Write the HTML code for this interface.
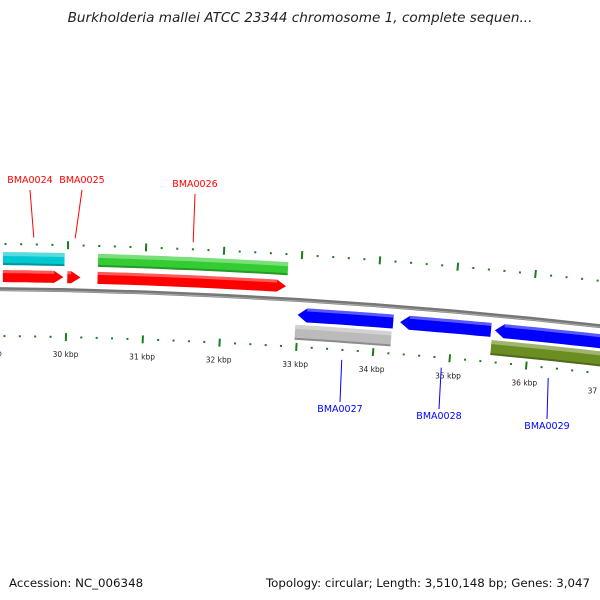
<!DOCTYPE html>
<html><head><meta charset="utf-8"><style>
body{margin:0;background:#fff}
svg{display:block;font-family:"DejaVu Sans","Liberation Sans",sans-serif}
</style></head><body>
<svg id="map" width="600" height="600" viewBox="0 0 600 600">
<text x="300" y="22" text-anchor="middle" font-size="13.6" font-style="italic" fill="#222">Burkholderia mallei ATCC 23344 chromosome 1, complete sequen...</text>
<g id="layer"></g>
<text x="9" y="587" font-size="11.8" fill="#111">Accession: NC_006348</text>
<text x="590" y="587" text-anchor="end" font-size="11.8" fill="#111">Topology: circular; Length: 3,510,148 bp; Genes: 3,047</text>
</svg>
<script>
// data
const geneNames=["BMA0024","BMA0025","BMA0026","BMA0027","BMA0028","BMA0029"];
const cdsStart=[29170,30000,30390,32990,34320,35550];
const cdsEnd=[29950,30170,32820,34230,35500,37200];
const cdsStrand=[1,1,1,-1,-1,-1];
const featStart=[29170,30390,32970,35520];
const featEnd=[29960,32830,34220,37200];
const featStrand=[1,1,-1,-1];
const featColor=["#00c8d0","#33cc33","#bbbbbb","#6b8e23"];
const tickKbp=[27,28,29,30,31,32,33,34,35,36,37,38];
const labelAnchorBp=[29560,30090,31600,33600,34900,36300];
const labelX=[30,82,195,340,439,547];
const labelY=[183,183,187,412,419,429];

const NS="http://www.w3.org/2000/svg";
const L=document.getElementById('layer');
const R=6000, CX=-70, CY=288.6+R;
const PX_PER_BP=0.0775;
const th30=Math.asin(137/R);
function theta(bp){return th30+(bp-30000)*PX_PER_BP/R;}
function pt(bp,off){const r=R+off,t=theta(bp);return [CX+r*Math.sin(t),CY-r*Math.cos(t)];}
function mk(tag,attrs,name){const e=document.createElementNS(NS,tag);for(const k in attrs)e.setAttribute(k,attrs[k]);


L.appendChild(e);return e;}
function arcPts(s,e,off){const a=[];for(let i=0;i<=12;i++){a.push(pt(s+(e-s)*i/12,off));}return a;}
function band(s,e,o1,o2,strand,arrow){
  const headBp=120;
  let outer,inner,tip=[];
  if(arrow&&strand>0){outer=arcPts(s,e-headBp,o2);inner=arcPts(s,e-headBp,o1).reverse();tip=[pt(e,(o1+o2)/2)];
    return outer.concat(tip,inner);}
  if(arrow&&strand<0){outer=arcPts(s+headBp,e,o2);inner=arcPts(s+headBp,e,o1).reverse();tip=[pt(s,(o1+o2)/2)];
    return outer.concat(inner,tip);}
  return arcPts(s,e,o2).concat(arcPts(s,e,o1).reverse());
}
function poly(p,fill,name){return mk('polygon',{points:p.map(q=>q[0].toFixed(1)+','+q[1].toFixed(1)).join(' '),fill:fill},name);}
// backbone
mk('polyline',{points:arcPts(27000,39000,0).map(q=>q.join(',')).join(' '),fill:'none',stroke:'#777',"stroke-width":4},'backbone');
mk('polyline',{points:arcPts(27000,39000,-1).map(q=>q.join(',')).join(' '),fill:'none',stroke:'#aaa',"stroke-width":1},'backbone-highlight');
// ticks
for(let bp=27000;bp<=39000;bp+=200){
  const major=bp%1000===0;
  [[45,'outer'],[-47,'inner']].forEach(([o,w])=>{
    const a=pt(bp,o-(major?4:1)),b=pt(bp,o+(major?4:1));
    mk('line',{x1:a[0],y1:a[1],x2:b[0],y2:b[1],stroke:'#1a7f1a',"stroke-width":2},w+'-tick');
  });
}
tickKbp.forEach(k=>{const p=pt(k*1000,-67);const t=mk('text',{x:p[0],y:p[1],"text-anchor":"middle","font-size":7.5,fill:'#222'},'tick-label');t.textContent=k+' kbp';});
// feature bands
featStart.forEach((s,i)=>{
  const o1=featStrand[i]>0?24:-40, o2=featStrand[i]>0?37:-25;
  poly(band(s,featEnd[i],o1,o2,0,false),featColor[i],'feature-'+i);
  poly(band(s,featEnd[i],o2-4,o2,0,false),'rgba(255,255,255,0.35)','feature-shine');
  poly(band(s,featEnd[i],o1,o1+2,0,false),'rgba(0,0,0,0.25)','feature-shadow');
});
// CDS arrows + labels
cdsStart.forEach((s,i)=>{
  const st=cdsStrand[i];
  const o1=st>0?7:-22, o2=st>0?19:-8;
  const col=st>0?'#ff0000':'#0000ff';
  poly(band(s,cdsEnd[i],o1,o2,st,true),col,'cds-'+geneNames[i]);
  poly(band(s+(st<0?120:0),cdsEnd[i]-(st>0?120:0),o2-3,o2,0,false),'rgba(255,255,255,0.35)','cds-shine');
  const a=pt(labelAnchorBp[i],st>0?52:-57);
  const by=st>0?labelY[i]+7:labelY[i]-10;
  mk('line',{x1:a[0],y1:a[1],x2:labelX[i],y2:by,stroke:col,"stroke-width":1},'label-line');
  const t=mk('text',{x:labelX[i],y:labelY[i],"text-anchor":"middle","font-size":9.5,fill:col},'gene-label');
  t.textContent=geneNames[i];
});
</script>
</body></html>
